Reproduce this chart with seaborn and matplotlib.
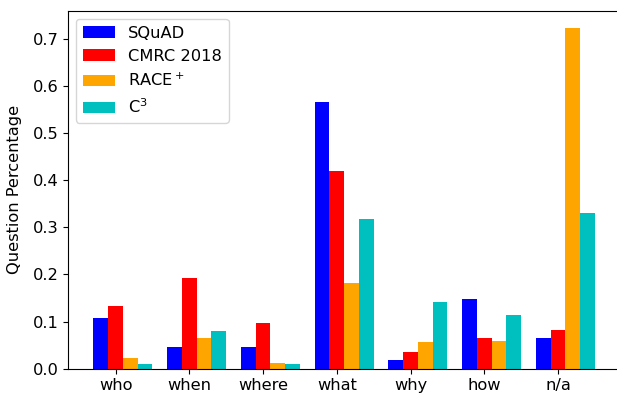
import numpy as np
import pandas as pd
import matplotlib
matplotlib.use("Agg")
import matplotlib.pyplot as plt
import seaborn as sns

categories = ["who", "when", "where", "what", "why", "how", "n/a"]
datasets = ["SQuAD", "CMRC 2018", "RACE$^+$", "C$^3$"]
squad = [0.108, 0.047, 0.045, 0.565, 0.018, 0.148, 0.066]
cmrc = [0.134, 0.193, 0.098, 0.419, 0.035, 0.066, 0.083]
race = [0.022, 0.066, 0.013, 0.181, 0.056, 0.058, 0.723]
c3 = [0.011, 0.081, 0.011, 0.317, 0.141, 0.113, 0.330]
colors = ["#0000ff", "#ff0000", "#ffa500", "#00bfbf"]

rows = []
for name, vals in zip(datasets, [squad, cmrc, race, c3]):
    for cat, v in zip(categories, vals):
        rows.append({"category": cat, "dataset": name, "value": v})
df = pd.DataFrame(rows)

FS = 11.7
fig = plt.figure(figsize=(6.17, 3.97), dpi=100)
ax = fig.add_axes([68 / 617, (397 - 368.7) / 397, (620 - 68) / 617, (368.7 - 11) / 397])

sns.barplot(data=df, x="category", y="value", hue="dataset", order=categories,
            hue_order=datasets, palette=colors, width=0.8, linewidth=0,
            errorbar=None, saturation=1, ax=ax)

ax.set_xlim(-0.745, 6.74)
ax.set_ylim(0, 0.759)
ax.set_xticks(np.arange(len(categories)) - 0.1)
ax.set_xticklabels(categories, fontsize=FS)
ax.set_yticks(np.arange(0, 0.71, 0.1))
ax.set_yticklabels([f"{t:.1f}" for t in np.arange(0, 0.71, 0.1)], fontsize=FS)
ax.set_xlabel("")
ax.set_ylabel("Question Percentage", fontsize=FS)
ax.yaxis.set_label_coords(-0.084, 0.5)
sns.move_legend(ax, "upper left", title=None, fontsize=FS, frameon=True)

fig.savefig("out.png", dpi=100)
